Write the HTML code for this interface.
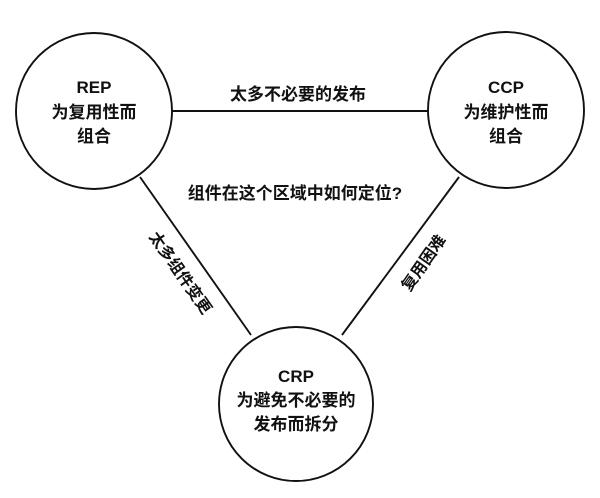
<!DOCTYPE html>
<html><head><meta charset="utf-8"><style>
html,body{margin:0;padding:0;background:#fff;}
svg text{font-family:"Liberation Sans","Noto Sans CJK SC",sans-serif;fill:#111;}
</style></head><body>
<svg width="600" height="493" viewBox="0 0 600 493" xmlns="http://www.w3.org/2000/svg">
<rect width="600" height="493" fill="#fff"/>
<g stroke="#111" stroke-width="1.9" fill="none">
<circle cx="94" cy="111" r="78"/>
<circle cx="506" cy="110" r="78"/>
<circle cx="296" cy="404" r="77"/>
<line x1="172" y1="111" x2="428" y2="111"/>
<line x1="140" y1="177" x2="251" y2="335"/>
<line x1="459" y1="177" x2="342" y2="335"/>
</g>
<g font-size="17" text-anchor="middle" font-weight="bold">
<text x="94" y="93">REP</text>
<text x="94" y="118">为复用性而</text>
<text x="94" y="142">组合</text>
<text x="506" y="93">CCP</text>
<text x="506" y="118">为维护性而</text>
<text x="506" y="142">组合</text>
<text x="296" y="382">CRP</text>
<text x="296" y="406">为避免不必要的</text>
<text x="296" y="430">发布而拆分</text>
<text x="298" y="100">太多不必要的发布</text>
<text x="295" y="199">组件在这个区域中如何定位?</text>
<text x="0" y="0" font-size="16" transform="translate(176,276) rotate(55)">太多组件变更</text>
<text x="0" y="0" font-size="16" transform="translate(428,266) rotate(-55)">复用困难</text>
</g>
</svg>
</body></html>
